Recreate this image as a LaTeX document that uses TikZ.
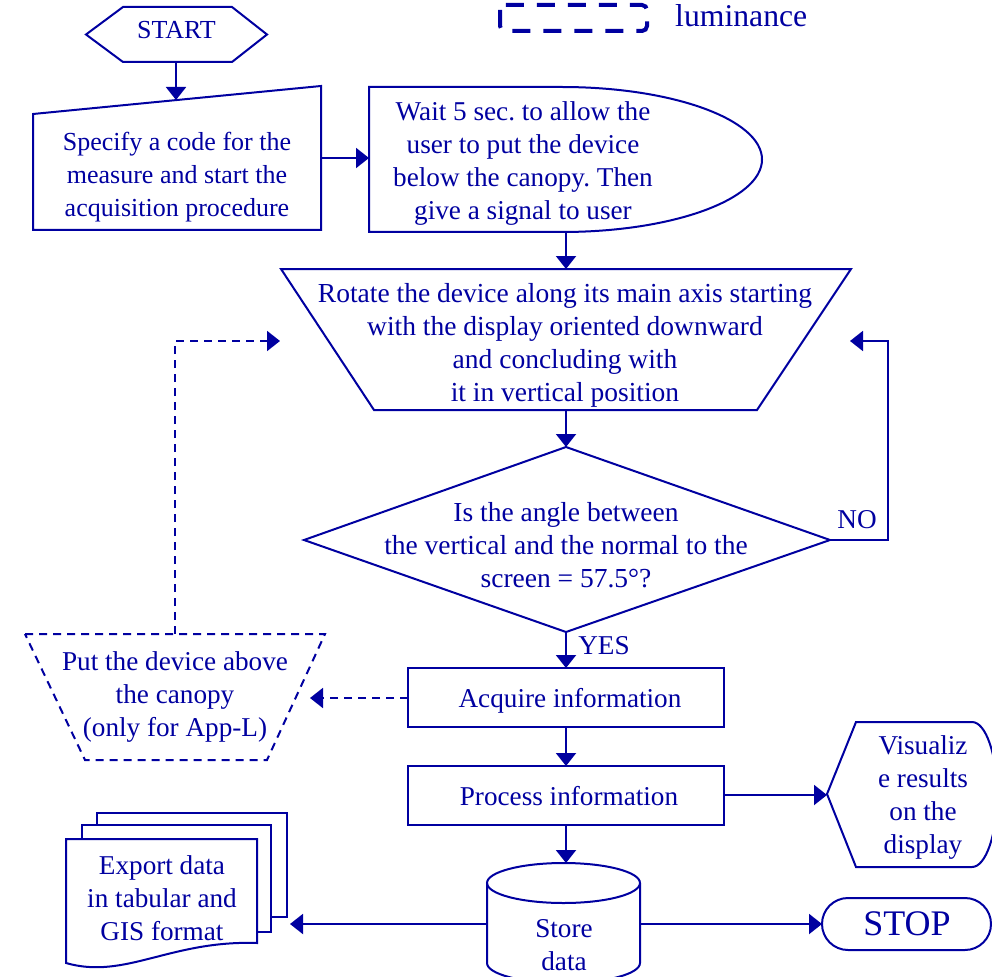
\documentclass[tikz,border=0pt]{standalone}
\usepackage{fontspec}
\setmainfont{Liberation Serif}
\usetikzlibrary{arrows.meta}
\definecolor{fc}{RGB}{0,0,160}
\frenchspacing
\begin{document}
\begin{tikzpicture}[x=1pt,y=-1pt,
  every node/.style={text=fc, font=\fontsize{27.2}{33}\selectfont, align=center, inner sep=0pt},
  shp/.style={draw=fc, line width=2pt, line join=miter},
  dshp/.style={shp, dash pattern=on 8pt off 6pt},
  conn/.style={draw=fc, line width=2pt, -{Triangle[length=13pt,width=20pt]}},
  dconn/.style={conn, dash pattern=on 8pt off 6pt}
]
\useasboundingbox (0,0) rectangle (992,976);

% legend
\draw[draw=fc, line width=4pt, dash pattern=on 18pt off 13pt, rounded corners=5pt] (500,5) rectangle (647,31);
\node[font=\fontsize{31.7}{36}\selectfont, anchor=base west] (lum) at (675,27) {luminance};

% START
\draw[shp] (86,34.5) -- (123,7) -- (232,7) -- (267,34.5) -- (232,62) -- (123,62) -- cycle;
\node[font=\fontsize{26}{33}\selectfont] (start) at (176.5,30) {START};
\coordinate (startB) at (176,62);

% manual input
\draw[shp] (33,114) -- (321,86) -- (321,230) -- (33,230) -- cycle;
\node[font=\fontsize{26}{33}\selectfont] (spec) at (177,177) {Specify a code for the\\measure and start the\\acquisition procedure};
\coordinate (specT) at (176,100);
\coordinate (specR) at (321,158);

% delay
\draw[shp] (369,87) -- (562,87) arc[start angle=-90, end angle=90, x radius=200, y radius=72.5] -- (369,232) -- cycle;
\node (wait) at (523,163) {Wait 5 sec. to allow the\\user to put the device\\below the canopy. Then\\give a signal to user};
\coordinate (waitL) at (369,158);
\coordinate (waitB) at (566,232);

% manual operation
\draw[shp] (281,269) -- (851,269) -- (757,410) -- (374,410) -- cycle;
\node[font=\fontsize{27.5}{33}\selectfont] (rot) at (565,345) {Rotate the device along its main axis starting\\with the display oriented downward\\and concluding with\\it in vertical position};
\coordinate (rotT) at (566,269);
\coordinate (rotB) at (566,410);
\coordinate (rotL) at (280,341);
\coordinate (rotR) at (850,341);

% decision
\draw[shp] (566,447) -- (830,540) -- (566,632) -- (304,540) -- cycle;
\node[font=\fontsize{27.5}{33}\selectfont] (dec) at (566,545) {Is the angle between\\the vertical and the normal to the\\screen = 57.5°?};
\coordinate (decT) at (566,447);
\coordinate (decR) at (830,540);
\coordinate (decB) at (566,632);
\node (no) at (857,520) {NO};
\node (yes) at (604,646) {YES};

% acquire / process
\draw[shp] (408,668) rectangle (724,727);
\node (acq) at (570,701) {Acquire information};
\coordinate (acqT) at (566,668);
\coordinate (acqB) at (566,727);
\coordinate (acqL) at (408,698);
\draw[shp] (408,766) rectangle (724,825);
\node (proc) at (569,796) {Process information};
\coordinate (procT) at (566,766);
\coordinate (procB) at (566,825);
\coordinate (procR) at (724,795);

% dashed trapezoid
\draw[dshp] (25,634) -- (325,634) -- (267,760) -- (85,760) -- cycle;
\node (put) at (175,697) {Put the device above\\the canopy\\(only for App-L)};
\coordinate (putT) at (175,634);
\coordinate (putR) at (310,698);

% display
\draw[shp] (827,794) -- (856,722) -- (972,722) arc[start angle=-90, end angle=90, x radius=25, y radius=72.5] -- (856,867) -- cycle;
\node (vis) at (923,797) {Visualiz\\e results\\on the\\display};
\coordinate (visL) at (827,795);

% cylinder
\draw[shp] (487,883) -- (487,963) arc[start angle=180, end angle=0, x radius=76.5, y radius=20] -- (640,883);
\draw[shp] (563.5,883) ellipse[x radius=76.5, y radius=20];
\node (store) at (564,945) {Store\\data};
\coordinate (storeT) at (566,863);
\coordinate (storeL) at (487,924);
\coordinate (storeR) at (640,924);

% STOP
\draw[shp, rounded corners=26pt] (822,898) rectangle (991,950);
\node[font=\fontsize{36}{40}\selectfont] (stop) at (907,924) {STOP};
\coordinate (stopL) at (822,924);

% multi-document
\draw[shp, fill=white] (97,813) rectangle (287,917);
\draw[shp, fill=white] (82,825) rectangle (271,932);
\draw[shp, fill=white] (66,839) -- (257,839) -- (257,943) .. controls (170,940) and (125,980) .. (66,963) -- cycle;
\node (exp) at (162,898) {Export data\\in tabular and\\GIS format};
\coordinate (expR) at (290,924);

% connectors
\draw[conn] (startB) -- (specT);
\draw[conn] (specR) -- (waitL);
\draw[conn] (waitB) -- (rotT);
\draw[conn] (rotB) -- (decT);
\draw[conn] (decR) -- ++(58,0) |- (rotR);
\draw[conn] (decB) -- (acqT);
\draw[conn] (acqB) -- (procT);
\draw[dconn] (acqL) -- (putR);
\draw[dconn] (putT) |- (rotL);
\draw[conn] (procR) -- (visL);
\draw[conn] (procB) -- (storeT);
\draw[conn] (storeR) -- (stopL);
\draw[conn] (storeL) -- (expR);
\end{tikzpicture}
\end{document}
